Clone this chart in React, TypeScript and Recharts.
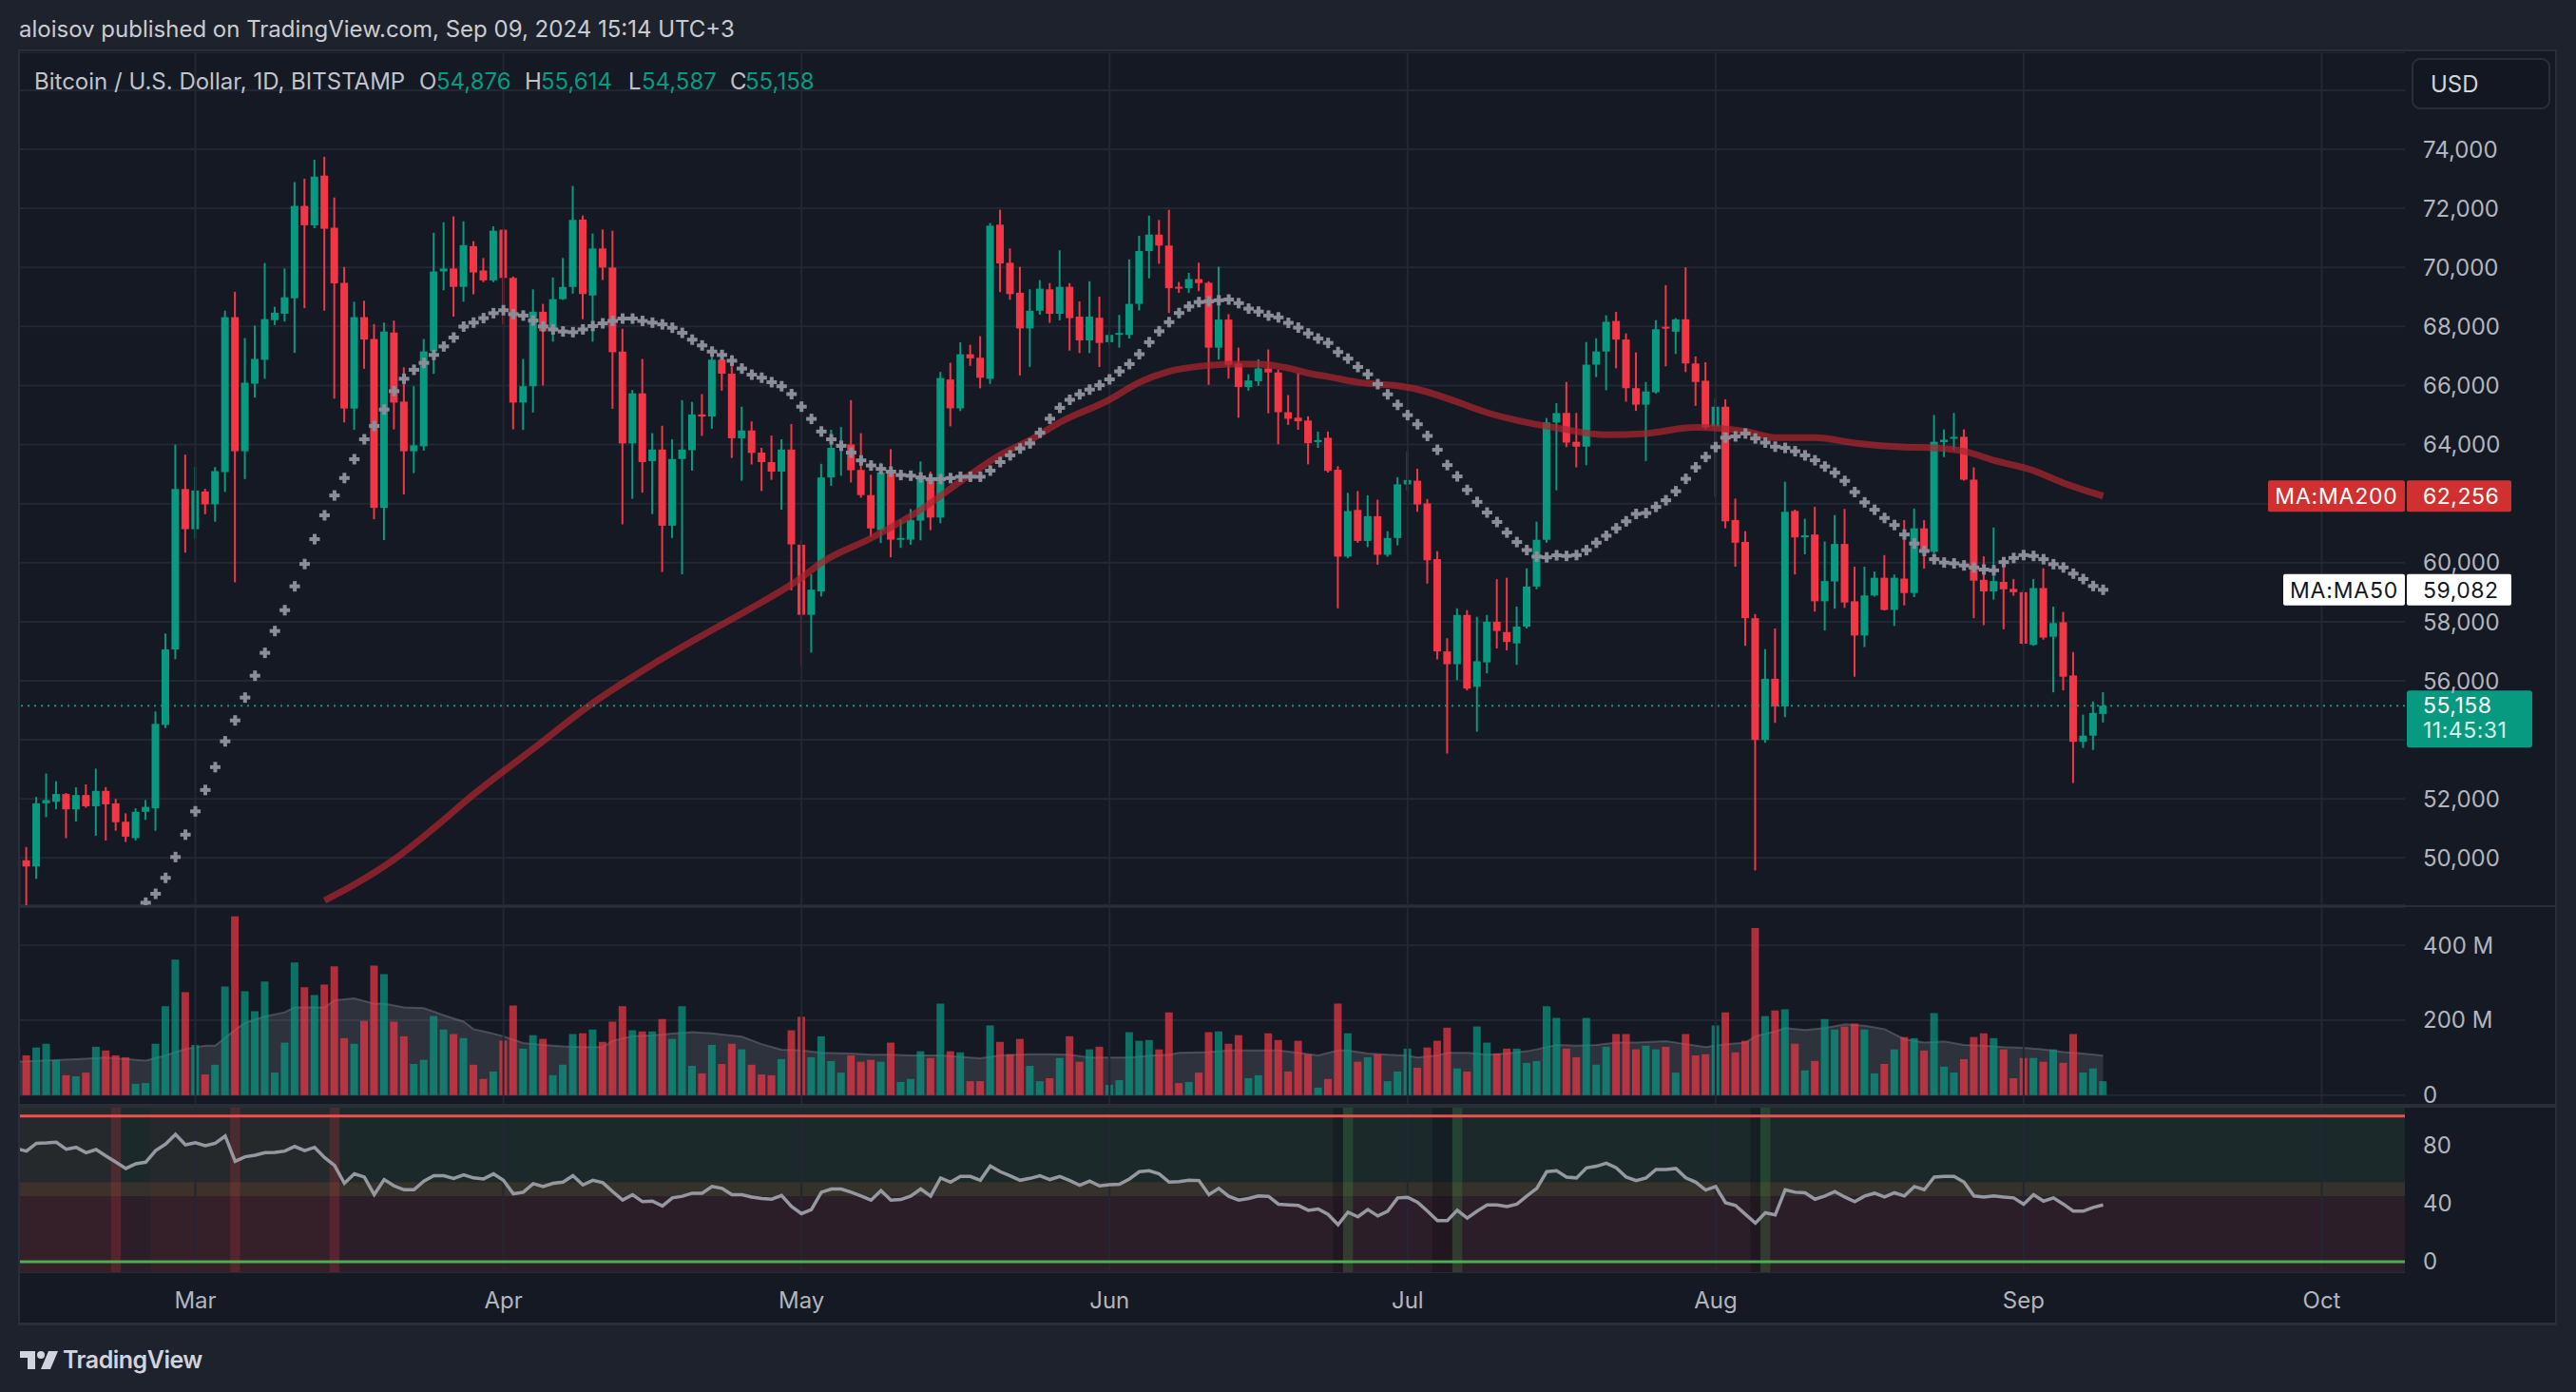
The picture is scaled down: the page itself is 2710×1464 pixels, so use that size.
import React from 'react';
import {
  ComposedChart, Bar, Line, Area, XAxis, YAxis, CartesianGrid,
  ReferenceLine, ReferenceArea, Cell,
} from 'recharts';

// ---------- data (day index 0 = 12 Feb 2024, 210 = 9 Sep 2024) ----------
const opens = [48300,49920,49710,51850,51900,52165,51646,52130,51750,52270,
51848,51226,50670,51563,51680,54505,57060,62495,61133,62411,
61974,63067,68315,63773,66061,66870,68214,68432,68954,72082,
71427,73109,71343,69476,65220,68315,67575,61856,67793,65456,
63773,63941,67154,69862,69963,69341,70720,69896,69560,71275,
69644,65422,65975,68498,67841,68924,69339,71620,69050,70640,
69995,67150,64039,65733,63440,63832,61252,63510,63809,65019,
64950,66873,66401,64212,64477,63729,63406,63083,63832,60607,
58233,59027,62887,63890,64005,63141,62289,61100,63060,60780,
60780,61424,62887,61528,66205,65226,67058,66942,66228,71447,
70157,69143,67933,68532,69258,68430,69344,68332,67529,68295,
67466,67750,67714,68764,70555,71110,70740,69344,69295,69604,
69480,67282,68233,66751,65948,66146,66578,66442,65096,64910,
64812,64120,64231,63145,60205,61786,60736,61576,60267,60835,
62650,62774,62008,60119,56994,56562,58229,55797,56624,58000,
57649,57266,57834,59192,60773,64750,65072,64095,63928,66706,
67152,68185,67557,65910,65351,65770,67990,67822,68241,66747,
66161,64612,65282,61443,60703,58120,53996,56068,55133,61750,
60856,60954,58693,59363,60633,58693,57534,58888,59489,58400,
59461,58972,61163,60368,64081,64202,64263,62811,59419,59028,
59349,59112,59000,57213,59140,57492,57981,56180,53932,54142,
54876];

const highs = [50300,50370,52066,52860,52600,52200,52390,52490,53025,52400,
52000,51510,51680,51960,54960,57600,64000,63660,63240,62500,
63240,68533,69173,67608,68029,70148,68668,69963,72890,73007,
73647,73748,72368,70014,68836,68870,68080,68130,68197,66616,
65977,67575,71174,71528,71729,71561,70888,70316,71393,71300,
69690,66902,69257,68763,69661,70318,72760,71758,71147,71285,
71240,67922,65848,66896,64385,64639,64178,65503,65445,65710,
67265,67207,67035,65283,64788,63890,64304,64178,64696,60756,
59604,63348,64500,64592,65503,64385,62979,63383,63844,61447,
61816,63429,63083,66459,66770,67461,67380,67668,71504,71954,
70640,70018,69258,69569,69468,70579,69468,68850,69530,69011,
67838,68393,70270,71073,71752,71604,71950,69505,69814,70159,
69530,70023,68418,67282,66380,66887,67220,66541,65676,66418,
64960,64441,64441,63268,62367,62428,62280,62132,61070,62897,
63762,63182,62157,60390,57439,58452,58390,58167,58229,59440,
59489,58513,59810,61391,64898,65400,66119,65072,67473,67599,
68381,68492,67766,67124,66119,68213,69400,68283,70000,66985,
66789,65561,65533,62169,61066,58260,57073,57771,62741,61800,
61485,61889,60717,61610,61820,59865,59865,59698,60256,59600,
61443,61833,61443,65002,64514,65072,64514,63229,60214,61192,
59907,59448,59070,59448,59810,58511,58330,56976,54854,55300,
55614];

const lows = [47700,48350,49290,51380,51650,50670,51230,51700,50750,50590,
50920,50540,50590,51290,50920,54400,56730,60340,60810,61640,
61385,62394,59333,62832,65590,66229,68046,68164,67104,68618,
71326,68533,65556,64749,64497,66566,61469,60763,64514,62310,
63033,63790,66397,69223,68332,68836,69089,69500,69500,68080,
64514,64497,65085,66000,67484,68900,69108,68244,67484,69569,
65214,61297,62162,62370,61643,59685,60837,59604,63118,64293,
64535,65825,63544,62772,63325,62427,62807,61793,59063,56494,
56955,58855,62600,62945,62715,62200,60872,60664,60180,60503,
60607,60756,61102,61332,64616,65134,66666,65906,66055,69166,
68901,66343,66631,68400,68122,68208,67183,67096,67096,66627,
67368,67282,67590,68541,69628,70122,68455,69134,69134,69196,
66022,66874,66232,64910,65824,65985,65059,64009,64664,64503,
63330,63886,63050,58452,60150,60674,60526,59934,60200,60588,
62428,61724,59292,56722,53536,56019,55673,54277,56253,57093,
57031,56537,57772,59100,60674,62450,63914,63229,63299,66287,
65840,66580,65449,65142,63439,65728,66650,67069,66454,65310,
64514,62238,61164,59865,57185,49577,53900,54574,54770,59600,
60284,58344,57701,58441,58469,56138,57143,58850,58380,57855,
58553,58832,59795,60300,63579,63816,62780,58120,57883,58749,
57743,58880,57213,57180,57394,55607,55677,52536,53723,53653,
54587];

const closes = [49920,49710,51850,51960,52165,51646,52130,51750,52270,51815,
51210,50720,51563,51730,54540,57060,62495,61133,62445,61974,
63100,68315,63773,66095,66900,68248,68466,68988,72082,71427,
73075,71309,69459,65220,68315,67558,61856,67827,65422,63773,
63975,67154,69862,69963,69341,70754,69829,69560,71242,69644,
65422,65975,68500,67841,68924,69339,71608,69097,70640,69995,
67127,64039,65733,63406,63832,61252,63510,63832,65019,64950,
66873,66401,64212,64477,63717,63406,63083,63832,60618,58233,
59086,62887,63890,64005,63130,62289,61160,63060,60780,60837,
61447,62887,61528,66251,65226,67058,66919,66263,71412,70134,
69097,67933,68532,69281,68430,69344,68282,67529,68332,67442,
67714,67780,68764,70555,71110,70740,69295,69295,69604,69468,
67282,68233,66701,65948,66170,66578,66442,65096,64874,64787,
64046,64150,63108,60205,61749,60736,61576,60267,60835,62650,
62799,61971,60081,56994,56562,58229,55735,56661,58000,57686,
57315,57834,59192,60773,64750,65065,64067,63928,66706,67152,
68157,67557,65910,65351,65798,67906,67934,68241,66747,66119,
64584,65282,61401,60675,58120,53996,56068,55133,61722,60856,
60926,58693,59377,60633,58651,57534,58888,59489,58400,59489,
58972,61163,60368,64095,64165,64260,62811,59391,59028,59377,
59098,59000,57255,59140,57464,57953,56138,53932,54142,54910,
55158];

// volume in millions
const volumes = [129,106,127,137,94,53,50,60,129,119,
106,101,30,32,137,237,362,275,134,55,
81,290,477,277,224,303,60,140,354,288,
267,295,344,152,137,198,346,323,196,157,
83,94,211,175,163,152,81,43,63,145,
239,124,160,150,53,81,163,165,175,142,
196,237,173,170,170,203,150,237,78,58,
134,83,137,122,81,55,53,96,173,209,
101,157,91,60,106,89,94,89,140,35,
43,117,99,244,117,114,37,37,186,142,
109,150,78,37,45,99,157,89,122,129,
27,40,168,145,147,122,221,32,35,60,
168,170,137,160,45,53,165,147,63,145,
109,20,43,244,165,89,101,109,37,63,
124,73,127,145,180,71,63,183,140,111,
124,124,86,91,237,206,124,101,206,81,
129,163,163,122,132,122,129,60,163,106,
109,186,221,114,145,446,211,226,229,137,
66,91,203,175,183,191,175,58,83,122,
155,152,119,219,76,60,96,155,165,152,
122,45,99,99,89,122,86,163,60,71,
37];

const rsiValues = [77.6,75.9,81.3,81.5,82.0,77.2,78.5,74.8,77.0,72.6,
68.3,64.0,67.2,68.3,76.3,80.7,87.4,80.2,81.7,79.6,
81.3,86.3,68.9,72.0,73.1,74.8,75.0,75.9,79.1,76.3,
78.5,71.5,66.1,53.8,60.3,58.1,46.0,56.4,52.0,49.4,
49.4,55.3,59.0,59.0,57.2,59.6,57.5,56.8,60.3,55.9,
46.6,47.7,53.6,51.6,53.8,54.6,59.0,52.7,55.9,54.2,
48.1,42.3,46.0,41.2,41.6,38.2,43.8,44.9,47.0,47.0,
51.6,50.3,46.0,46.0,44.4,43.4,42.9,45.5,37.9,33.0,
35.8,47.7,49.9,49.9,47.7,45.1,42.3,48.8,42.3,42.7,
45.1,49.9,45.1,57.5,54.6,58.5,58.5,55.9,65.7,61.8,
59.0,55.9,57.2,59.0,56.4,58.5,55.7,52.5,55.3,52.0,
52.9,53.1,56.8,61.8,62.4,60.3,54.6,54.9,55.9,55.7,
46.0,50.3,44.9,42.3,43.4,45.1,44.9,39.5,39.0,38.6,
35.3,36.2,32.5,25.4,34.0,30.8,35.8,31.4,34.7,43.8,
44.2,40.8,34.7,28.2,28.2,35.3,29.9,34.7,39.0,39.0,
37.9,39.5,45.1,50.3,61.8,62.4,58.1,57.5,64.4,65.5,
67.6,64.4,58.1,55.7,57.5,63.3,63.3,64.0,57.5,54.6,
49.2,51.6,40.5,38.6,32.5,26.5,33.6,32.1,49.4,47.7,
47.3,42.9,45.1,48.1,44.4,41.2,45.1,47.0,44.4,47.3,
45.1,51.6,49.4,58.1,58.5,58.5,54.6,45.1,44.4,45.1,
44.4,43.8,39.5,46.0,41.6,43.8,39.5,34.7,34.7,37.3,
39.0];

const ma50Values = [null,null,null,null,null,null,null,null,null,null,
null,null,null,48484,48786,49325,50031,50788,51579,52302,
53076,53950,54657,55431,56171,56945,57685,58391,59199,59955,
60796,61604,62276,62866,63504,64178,64631,65186,65809,66229,
66532,66767,67036,67323,67625,67995,68130,68282,68450,68550,
68416,68370,68200,68000,67900,67830,67806,67900,68013,68106,
68186,68267,68267,68186,68129,68071,67956,67783,67553,67357,
67150,67035,66839,66574,66367,66263,66113,65975,65710,65284,
64869,64443,64178,63959,63729,63464,63291,63176,63083,62968,
62945,62887,62830,62830,62864,62910,62910,62910,63118,63406,
63636,63867,64040,64400,64874,65244,65516,65701,65862,66010,
66207,66479,66726,67060,67467,67838,68146,68455,68678,68826,
68850,68887,68912,68789,68603,68505,68369,68307,68122,67961,
67763,67590,67442,67134,66911,66627,66380,66047,65701,65343,
64997,64688,64293,63824,63305,62922,62465,62058,61699,61378,
61020,60699,60427,60205,60180,60250,60228,60256,60424,60675,
60912,61163,61401,61652,61680,61889,62113,62420,62839,63229,
63579,63914,64235,64277,64375,64207,64067,63928,63886,63774,
63634,63467,63257,63048,62769,62392,62043,61792,61513,61275,
60954,60647,60396,60117,60005,59977,59907,59837,59768,59740,
60019,60158,60256,60228,60117,59949,59837,59628,59446,59209,
59082];

// MA200 read at sample days: [day, value]
const ma200Points = [[31,48560],[34,49100],[38,49950],[42,51007],[46,52150],[52,53698],
[58,55250],[64,56550],[69,57530],[74,58470],[79,59489],[81,60000],[86,60830],[91,61793],
[95,62750],[99,63650],[102,64150],[105,64750],[110,65520],[113,66108],[116,66479],
[120,66680],[122,66726],[125,66726],[128,66590],[130,66418],[132,66300],[135,66108],
[139,65990],[141,65870],[144,65560],[148,65080],[151,64820],[155,64565],[160,64330],
[164,64375],[169,64584],[174,64444],[177,64235],[181,64235],[185,64053],[190,63914],
[193,63886],[196,63774],[199,63467],[203,63118],[206,62700],[210,62256]];

// volume moving average read at sample days: [day, millions]
const volMAPoints = [[0,89],[6,96],[9,100],[13,92],[15,106],[17,123],[19,132],[20,132],
[22,174],[23,193],[25,210],[27,221],[28,234],[31,234],[32,253],[34,258],[36,244],[37,244],
[39,234],[41,232],[43,213],[45,196],[46,176],[48,164],[49,157],[51,139],[53,134],[55,130],
[57,128],[59,128],[60,145],[62,157],[64,159],[66,164],[68,168],[70,165],[73,156],[75,136],
[77,121],[79,119],[81,113],[84,111],[86,108],[88,108],[90,106],[93,106],[95,102],[97,98],
[99,106],[102,109],[104,109],[106,108],[108,100],[109,100],[112,100],[114,105],[116,108],
[117,113],[120,115],[122,119],[124,119],[127,119],[129,113],[131,106],[133,119],[134,119],
[136,111],[138,108],[140,105],[141,100],[143,106],[144,113],[146,113],[148,108],[150,111],
[152,117],[153,122],[155,134],[157,132],[159,134],[161,140],[163,140],[166,144],[168,136],
[170,128],[172,136],[174,140],[175,157],[177,170],[178,179],[180,174],[182,179],[184,189],
[186,185],[188,176],[190,149],[192,140],[194,143],[196,134],[198,132],[200,128],[202,126],
[204,122],[206,115],[208,111],[210,105]];

const monthTicks = [18, 49, 79, 110, 140, 171, 202, 232];
const monthLabels = ['Mar', 'Apr', 'May', 'Jun', 'Jul', 'Aug', 'Sep', 'Oct'];
const priceTicks = [50000, 52000, 54000, 56000, 58000, 60000, 62000, 64000, 66000, 68000, 70000, 72000, 74000];
const volumeTicks = [0, 200, 400];
const rsiTicks = [0, 40, 80];
const overboughtSpans = [[0, 9], [14, 21], [23, 31]];
const oversoldSpans = [[133, 133], [143, 144], [175, 175]];
const sellSignalDays = [10, 22, 32];
const buySignalDays = [134, 145, 176];
const lastPrice = 55158;
const lastMA50 = 59082;
const lastMA200 = 62256;

// ---------- styling ----------
const FONT = 'Inter, "Noto Sans", "DejaVu Sans", sans-serif';
const BG_PAGE = '#1e222d';
const BG_PANE = '#151924';
const GRID = '#232733';
const BORDER = '#2a2e39';
const TEXT = '#b2b5be';
const UP = '#089981';
const DOWN = '#f23645';
const VOL_UP = 'rgba(8,153,129,0.7)';
const VOL_DOWN = 'rgba(242,54,69,0.7)';
const CROSS = '#8b8e98';
const PRICE_MIN = 48400;
const PRICE_MAX = 77285;
const X_DOMAIN: [number, number] = [0.25, 240.37];
const CHART_W = 2669;
const AXIS_W = 159;
const FS = 24;

const rows: any[] = opens.map((o, i) => ({
  d: i, o, h: highs[i], l: lows[i], c: closes[i],
  vol: volumes[i], rsi: rsiValues[i], ma50: ma50Values[i],
  ma200: null as number | null, volMA: null as number | null,
}));
ma200Points.forEach(([d, v]) => { rows[d].ma200 = v; });
volMAPoints.forEach(([d, v]) => { rows[d].volMA = v; });

const fmtPrice = (v: number) => v.toLocaleString('en-US');

// price-scale labels that sit under a badge are covered in the reference
const coveredByBadge = (v: number) =>
  Math.abs(v - lastMA200) < 700 || Math.abs(v - lastMA50) < 700 ||
  (v < lastPrice + 500 && v > lastPrice - 1450);

const PriceTick = (props: any) => {
  const { x, y, payload } = props;
  if (!payload || coveredByBadge(payload.value)) return <g />;
  return (
    <text x={x} y={y} dy="0.36em" textAnchor="start" fill={TEXT} fontSize={FS} fontFamily={FONT}>
      {fmtPrice(payload.value)}
    </text>
  );
};

const CandleShape = (props: any) => {
  const { x, y, width, height, payload } = props;
  if (!payload || !isFinite(x) || !isFinite(y) || !isFinite(height)) return <g />;
  const up = payload.c >= payload.o;
  const color = up ? UP : DOWN;
  const span = payload.h - PRICE_MIN;
  const py = (v: number) => y + ((payload.h - Math.max(v, PRICE_MIN)) / span) * height;
  const cx = x + width / 2;
  const top = py(Math.max(payload.o, payload.c));
  const bot = py(Math.min(payload.o, payload.c));
  const wTop = py(payload.h);
  const wBot = py(payload.l);
  return (
    <g>
      <rect x={cx - 1} y={wTop} width={2} height={Math.max(1, wBot - wTop)} fill={color} />
      <rect x={cx - 4} y={top} width={8} height={Math.max(2, bot - top)} fill={color} />
    </g>
  );
};

const CrossDot = (props: any) => {
  const { cx, cy, index } = props;
  if (cy == null || !isFinite(cy) || cx == null) return <g key={`c${index}`} />;
  return (
    <g key={`c${index}`}>
      <rect x={cx - 5.5} y={cy - 2} width={11} height={4} fill={CROSS} />
      <rect x={cx - 2} y={cy - 5.5} width={4} height={11} fill={CROSS} />
    </g>
  );
};

const badge = (kind: string) => (p: any) => {
  const vb = p.viewBox || {};
  const R = (vb.x || 0) + (vb.width || 0);
  const Y = vb.y || 0;
  const fs = 23;
  if (kind === 'ma200') {
    return (
      <g>
        <rect x={R - 144} y={Y - 16.5} width={144} height={33} rx={2} fill="#d0302f" />
        <text x={R - 72} y={Y} dy="0.36em" textAnchor="middle" fill="#ffffff" fontSize={fs} fontFamily={FONT} letterSpacing={0.8}>MA:MA200</text>
        <rect x={R + 2} y={Y - 16.5} width={110} height={33} rx={2} fill="#d0302f" />
        <text x={R + 19} y={Y} dy="0.36em" fill="#ffffff" fontSize={fs} fontFamily={FONT} letterSpacing={0.5}>{fmtPrice(lastMA200)}</text>
      </g>
    );
  }
  if (kind === 'ma50') {
    return (
      <g>
        <rect x={R - 128} y={Y - 16.5} width={128} height={33} rx={2} fill="#ffffff" />
        <text x={R - 64} y={Y} dy="0.36em" textAnchor="middle" fill="#131722" fontSize={fs} fontFamily={FONT} letterSpacing={0.8}>MA:MA50</text>
        <rect x={R + 2} y={Y - 16.5} width={110} height={33} rx={2} fill="#ffffff" />
        <text x={R + 19} y={Y} dy="0.36em" fill="#131722" fontSize={fs} fontFamily={FONT} letterSpacing={0.5}>{fmtPrice(lastMA50)}</text>
      </g>
    );
  }
  return (
    <g>
      <rect x={R + 2} y={Y - 16} width={132} height={60} rx={3} fill={UP} />
      <text x={R + 19} y={Y} dy="0.36em" fill="#ffffff" fontSize={fs} fontFamily={FONT} letterSpacing={0.5}>{fmtPrice(lastPrice)}</text>
      <text x={R + 19} y={Y + 26} dy="0.36em" fill="#d6efe9" fontSize={fs} fontFamily={FONT} letterSpacing={0.5}>11:45:31</text>
    </g>
  );
};

const tickStyle = { fill: TEXT, fontSize: FS, fontFamily: FONT };

const monthLines = (key: string) => monthTicks.map((m) => (
  <ReferenceLine key={`${key}${m}`} x={m} stroke={GRID} strokeWidth={2} ifOverflow="hidden" />
));

const MainPane = () => (
  <ComposedChart width={CHART_W} height={897} data={rows} margin={{ top: 0, right: 0, bottom: 0, left: 0 }}>
    <XAxis type="number" dataKey="d" domain={X_DOMAIN} allowDataOverflow hide />
    <YAxis orientation="right" width={AXIS_W} domain={[PRICE_MIN, PRICE_MAX]} allowDataOverflow
      ticks={priceTicks} interval={0} axisLine={false} tickLine={false}
      tickSize={0} tickMargin={19} tick={PriceTick} />
    <CartesianGrid vertical={false} stroke={GRID} strokeWidth={2} />
    {monthLines('m')}
    <ReferenceLine y={76000} stroke={GRID} strokeWidth={2} />
    <Bar dataKey="h" barSize={8} shape={CandleShape} isAnimationActive={false} />
    <Line dataKey="ma50" stroke="none" dot={CrossDot} activeDot={false} isAnimationActive={false} connectNulls />
    <Line dataKey="ma200" type="monotone" stroke="rgba(170,36,46,0.74)" strokeWidth={7} dot={false}
      activeDot={false} connectNulls isAnimationActive={false} />
    <ReferenceLine y={lastPrice} stroke={UP} strokeWidth={2} strokeDasharray="2 5" label={badge('last')} />
    <ReferenceLine y={lastMA200} stroke="none" label={badge('ma200')} />
    <ReferenceLine y={lastMA50} stroke="none" label={badge('ma50')} />
  </ComposedChart>
);

const VolumePane = () => (
  <ComposedChart width={CHART_W} height={211} data={rows} margin={{ top: 0, right: 0, bottom: 0, left: 0 }}>
    <XAxis type="number" dataKey="d" domain={X_DOMAIN} allowDataOverflow hide />
    <YAxis orientation="right" width={AXIS_W} domain={[-33.8, 502]} allowDataOverflow ticks={volumeTicks}
      interval={0} tickFormatter={(v: number) => (v === 0 ? '0' : `${v} M`)} axisLine={false}
      tickLine={false} tickSize={0} tickMargin={19} tick={tickStyle} />
    <CartesianGrid vertical={false} stroke={GRID} strokeWidth={2} />
    {monthLines('v')}
    <Bar dataKey="vol" barSize={8} isAnimationActive={false}>
      {rows.map((r, i) => <Cell key={i} fill={r.c >= r.o ? VOL_UP : VOL_DOWN} />)}
    </Bar>
    <Area dataKey="volMA" type="linear" connectNulls baseValue={0} stroke="rgba(149,152,161,0.35)"
      strokeWidth={2} fill="rgba(149,152,161,0.2)" fillOpacity={1} dot={false} activeDot={false}
      isAnimationActive={false} />
  </ComposedChart>
);

const RsiPane = () => (
  <ComposedChart width={CHART_W} height={228} data={rows} margin={{ top: 0, right: 0, bottom: 0, left: 0 }}>
    <XAxis type="number" dataKey="d" domain={X_DOMAIN} allowDataOverflow ticks={monthTicks} interval={0}
      tickFormatter={(v: number) => monthLabels[monthTicks.indexOf(v)] || ''} axisLine={false}
      tickLine={false} tickSize={0} tickMargin={21} height={55} tick={tickStyle} />
    <YAxis orientation="right" width={AXIS_W} domain={[-7.2, 105.7]} allowDataOverflow ticks={rsiTicks}
      interval={0} axisLine={false} tickLine={false} tickSize={0} tickMargin={19} tick={tickStyle} />
    <ReferenceArea y1={54.6} y2={105.7} fill="#1c292b" fillOpacity={1} stroke="none" ifOverflow="hidden" />
    <ReferenceArea y1={45} y2={54.6} fill="#34322a" fillOpacity={1} stroke="none" ifOverflow="hidden" />
    <ReferenceArea y1={-7.2} y2={45} fill="#2c1e28" fillOpacity={1} stroke="none" ifOverflow="hidden" />
    {overboughtSpans.map(([a, b]) => (
      <ReferenceArea key={`ob${a}`} x1={a - 0.5} x2={b + 0.5} fill="rgba(242,54,69,0.05)" fillOpacity={1}
        stroke="none" ifOverflow="hidden" />
    ))}
    {oversoldSpans.map(([a, b]) => (
      <ReferenceArea key={`os${a}`} x1={a - 0.5} x2={b + 0.5} fill="rgba(8,10,18,0.3)" fillOpacity={1}
        stroke="none" ifOverflow="hidden" />
    ))}
    {sellSignalDays.map((d) => (
      <ReferenceArea key={`s${d}`} x1={d - 0.5} x2={d + 0.5} fill="rgba(242,54,69,0.22)" fillOpacity={1}
        stroke="none" ifOverflow="hidden" />
    ))}
    {buySignalDays.map((d) => (
      <ReferenceArea key={`b${d}`} x1={d - 0.5} x2={d + 0.5} fill="rgba(76,175,80,0.2)" fillOpacity={1}
        stroke="none" ifOverflow="hidden" />
    ))}
    <CartesianGrid vertical={false} stroke="rgba(120,123,134,0.18)" strokeWidth={2} />
    {monthLines('r')}
    <ReferenceLine y={100} stroke="#f0504d" strokeWidth={3} />
    <ReferenceLine y={0} stroke="#4caf50" strokeWidth={3} />
    <Line dataKey="rsi" type="linear" stroke="#9598a1" strokeWidth={3.5} dot={false} activeDot={false}
      isAnimationActive={false} />
  </ComposedChart>
);

export default function App() {
  return (
    <div style={{ position: 'absolute', left: 0, top: 0, width: 2710, height: 1464, background: BG_PAGE, overflow: 'hidden', fontFamily: FONT }}>
      <div style={{ position: 'absolute', left: 20, top: 53, width: 2669, height: 1340, background: BG_PANE }} />
      <div style={{ position: 'absolute', left: 20, top: 55 }}><MainPane /></div>
      <div style={{ position: 'absolute', left: 20, top: 954 }}><VolumePane /></div>
      <div style={{ position: 'absolute', left: 20, top: 1165 }}><RsiPane /></div>
      <svg width={2710} height={1464} style={{ position: 'absolute', left: 0, top: 0, pointerEvents: 'none' }}>
        <text x={20} y={39} fill="#c9ccd3" fontSize={24} fontFamily={FONT}>aloisov published on TradingView.com, Sep 09, 2024 15:14 UTC+3</text>
        <rect x={20} y={53} width={2669} height={1340} fill="none" stroke={BORDER} strokeWidth={2} />
        <rect x={20} y={952} width={2669} height={2} fill={BORDER} />
        <rect x={20} y={1161} width={2669} height={4} fill={BORDER} />
        <rect x={20} y={1391} width={2669} height={3} fill={BORDER} />
        <text y={94} fontSize={24} fontFamily={FONT}>
          <tspan x={36} fill="#c0c3cb">Bitcoin / U.S. Dollar, 1D, BITSTAMP</tspan>
          <tspan x={441} fill="#c0c3cb">O</tspan><tspan x={459} fill={UP}>54,876</tspan>
          <tspan x={552} fill="#c0c3cb">H</tspan><tspan x={569} fill={UP}>55,614</tspan>
          <tspan x={661} fill="#c0c3cb">L</tspan><tspan x={675} fill={UP}>54,587</tspan>
          <tspan x={768} fill="#c0c3cb">C</tspan><tspan x={784} fill={UP}>55,158</tspan>
        </text>
        <rect x={2538} y={62} width={144} height={52} rx={8} fill="#131722" stroke={BORDER} strokeWidth={2} />
        <text x={2557} y={88} dy="0.36em" fill="#d1d4dc" fontSize={24} fontFamily={FONT}>USD</text>
        <g fill="#d1d4dc">
          <path d="M21 1421 H37 V1440 H29 V1428 H21 Z" />
          <circle cx={43} cy={1425} r={4} />
          <path d="M51 1421 H61 L53 1440 H43 Z" />
        </g>
        <text x={66} y={1439} fill="#d1d4dc" fontSize={25} fontWeight={600} fontFamily={FONT} letterSpacing={-0.5}>TradingView</text>
      </svg>
    </div>
  );
}
